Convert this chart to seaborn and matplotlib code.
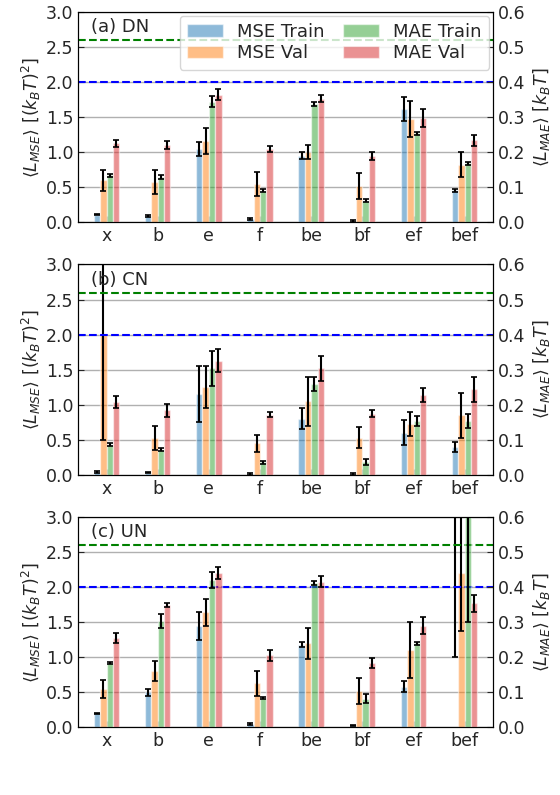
import numpy as np
import matplotlib
matplotlib.use("Agg")
import matplotlib.pyplot as plt
import seaborn as sns

sns.set_style("white")
plt.rcParams['font.family'] = ['DejaVu Sans']
plt.rcParams['font.size'] = 12.5

cats = ["x", "b", "e", "f", "be", "bf", "ef", "bef"]
titles = ["(a) DN", "(b) CN", "(c) UN"]

# MSE in (k_B T)^2 ; MAE in k_B T
mse_tr = [[.11,.09,1.05,.05,.95,.02,1.62,.46],
          [.04,.03,1.15,.01,.80,.01,.60,.40],
          [.20,.50,1.45,.05,1.18,.03,.58,3.5]]
mse_tr_e = [[.01,.01,.10,.01,.05,.01,.17,.02],
            [.01,.01,.40,.01,.15,.01,.18,.07],
            [.01,.05,.20,.01,.04,.01,.08,2.5]]
mse_va = [[.60,.57,1.16,.55,1.00,.52,1.47,.82],
          [2.0,.53,1.25,.45,1.05,.53,.72,.85],
          [.55,.80,1.64,.63,1.20,.52,1.11,2.20]]
mse_va_e = [[.15,.17,.18,.17,.10,.18,.26,.18],
            [1.5,.17,.30,.12,.35,.15,.17,.32],
            [.13,.14,.19,.18,.22,.19,.40,.82]]
mae_tr = [[.134,.130,.344,.090,.338,.062,.254,.168],
          [.086,.072,.304,.036,.260,.036,.154,.154],
          [.184,.304,.420,.084,.412,.082,.240,.640]]
mae_tr_e = [[.004,.006,.016,.004,.006,.004,.004,.004],
            [.004,.004,.050,.004,.020,.008,.014,.020],
            [.002,.020,.022,.004,.006,.012,.004,.340]]
mae_va = [[.226,.220,.364,.210,.352,.190,.298,.234],
          [.208,.184,.326,.172,.304,.174,.228,.244],
          [.256,.348,.440,.206,.416,.184,.290,.354]]
mae_va_e = [[.010,.012,.016,.008,.010,.012,.026,.016],
            [.016,.018,.034,.006,.036,.010,.020,.036],
            [.014,.006,.016,.016,.016,.014,.024,.024]]

cols = sns.color_palette("tab10")
labels = ["MSE Train", "MSE Val", "MAE Train", "MAE Val"]

fig, axes = plt.subplots(3, 1, figsize=(5.6, 7.95), dpi=100)
fig.subplots_adjust(left=0.14, right=0.88, top=0.985, bottom=0.085, hspace=0.2)
x = np.arange(len(cats))
w = 0.125
ekw = dict(elinewidth=1.5, capsize=2.5, capthick=1.2, ecolor="black")
for i, ax in enumerate(axes):
    ax2 = ax.twinx()
    h = []
    h.append(ax.bar(x - 1.5*w, mse_tr[i], w, yerr=mse_tr_e[i], color=cols[0], alpha=0.5, label=labels[0], error_kw=ekw))
    h.append(ax.bar(x - 0.5*w, mse_va[i], w, yerr=mse_va_e[i], color=cols[1], alpha=0.5, label=labels[1], error_kw=ekw))
    h.append(ax2.bar(x + 0.5*w, mae_tr[i], w, yerr=mae_tr_e[i], color=cols[2], alpha=0.5, label=labels[2], error_kw=ekw))
    h.append(ax2.bar(x + 1.5*w, mae_va[i], w, yerr=mae_va_e[i], color=cols[3], alpha=0.5, label=labels[3], error_kw=ekw))
    if i == 2:
        h[0].patches[7].set_alpha(0)
    ax.set_ylim(0, 3.0)
    ax2.set_ylim(0, 0.6)
    ax.set_xlim(-0.55, 7.55)
    ax.set_yticks([0, .5, 1, 1.5, 2, 2.5, 3])
    ax2.set_yticks([0, .1, .2, .3, .4, .5, .6])
    ax.yaxis.grid(True, color="#b0b0b0", lw=1)
    ax.set_axisbelow(True)
    ax.axhline(2.6, color="green", ls="--", lw=1.5)
    ax.axhline(2.0, color="blue", ls="--", lw=1.5)
    ax.set_xticks(x)
    ax.set_xticklabels(cats)
    ax.set_ylabel(r"$\langle L_{MSE}\rangle\ [(k_BT)^2]$", labelpad=2)
    ax2.set_ylabel(r"$\langle L_{MAE}\rangle\ [k_BT]$", labelpad=4)
    ax.tick_params(direction="in", length=4, left=True, bottom=True)
    ax2.tick_params(direction="in", length=4, right=True)
    for a in (ax, ax2):
        for s in a.spines.values():
            s.set_color("black")
    ax.text(0.03, 0.97, titles[i], transform=ax.transAxes, va="top", ha="left", fontsize=13)
    if i == 0:
        ax2.legend(h, labels, ncol=2, loc="upper right", bbox_to_anchor=(1.0, 1.0),
                   fontsize=13, framealpha=0.8, columnspacing=1.0, handlelength=2.0,
                   borderaxespad=0.2, labelspacing=0.2)

fig.savefig("out.png", dpi=100)
